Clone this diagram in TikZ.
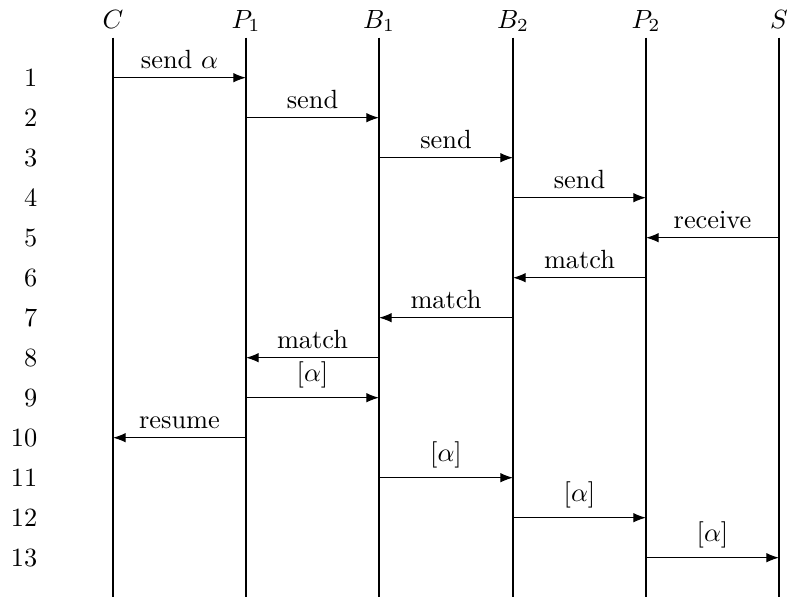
\documentclass[tikz,border=0pt]{standalone}
\usetikzlibrary{arrows.meta}
\begin{document}
\begin{tikzpicture}[x=0.013333cm,y=-0.013333cm,
  lane/.style={line width=0.4pt},
  msg/.style={-{Latex}},
  head/.style={anchor=base},
  rowno/.style={anchor=east},
  lbl/.style={midway,above}]
\useasboundingbox (0,0) rectangle (789,597);
% lifelines with their headings
\foreach \n/\t/\x in {C/C/113, P1/P_1/246, B1/B_1/379, B2/B_2/513, P2/P_2/646, S/S/779} {
  \node[head] (h\n) at (\x,28) {$\t$};
  \coordinate (\n) at (\x,37.7);
  \coordinate (\n end) at (\x,597);
  \draw[lane] (\n) -- (\n end);
}
% step numbers and the rows they mark
\foreach \i in {1,...,13} {
  \node[rowno] (n\i) at (46.5, 37.7+40*\i) {\i};
  \coordinate (r\i) at (0, 37.7+40*\i);
}
% messages
\draw[msg] (C |- r1) -- (P1 |- r1) node[lbl] {send $\alpha$};
\draw[msg] (P1 |- r2) -- (B1 |- r2) node[lbl] {send};
\draw[msg] (B1 |- r3) -- (B2 |- r3) node[lbl] {send};
\draw[msg] (B2 |- r4) -- (P2 |- r4) node[lbl] {send};
\draw[msg] (S |- r5) -- (P2 |- r5) node[lbl] {receive};
\draw[msg] (P2 |- r6) -- (B2 |- r6) node[lbl] {match};
\draw[msg] (B2 |- r7) -- (B1 |- r7) node[lbl] {match};
\draw[msg] (B1 |- r8) -- (P1 |- r8) node[lbl] {match};
\draw[msg] (P1 |- r9) -- (B1 |- r9) node[lbl] {$[\alpha]$};
\draw[msg] (P1 |- r10) -- (C |- r10) node[lbl] {resume};
\draw[msg] (B1 |- r11) -- (B2 |- r11) node[lbl] {$[\alpha]$};
\draw[msg] (B2 |- r12) -- (P2 |- r12) node[lbl] {$[\alpha]$};
\draw[msg] (P2 |- r13) -- (S |- r13) node[lbl] {$[\alpha]$};
\end{tikzpicture}
\end{document}
